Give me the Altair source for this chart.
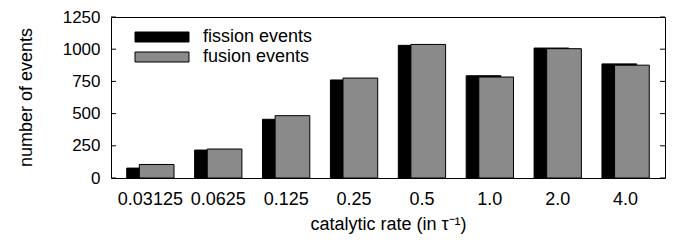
import altair as alt
import pandas as pd

rates = ["0.03125", "0.0625", "0.125", "0.25", "0.5", "1.0", "2.0", "4.0"]
fission = [77, 217, 456, 761, 1030, 794, 1009, 886]
fusion = [105, 225, 484, 776, 1037, 784, 1004, 876]
series_names = ["fission events", "fusion events"]
series_colors = ["#000000", "#8a8a8a"]
y_ticks = [0, 250, 500, 750, 1000, 1250]

rows = []
for r, a, b in zip(rates, fission, fusion):
    rows.append({"rate": r, "series": series_names[0], "count": a})
    rows.append({"rate": r, "series": series_names[1], "count": b})
df = pd.DataFrame(rows)
ticks_df = pd.DataFrame({"count": y_ticks})

FONT = "Liberation Sans"
FS = 18
W, H = 554, 161

x_enc = alt.X(
    "rate:N",
    sort=rates,
    scale=alt.Scale(paddingInner=0, paddingOuter=0.08),
    axis=alt.Axis(
        title="catalytic rate (in τ⁻¹)",
        labelAngle=0,
        ticks=False,
        domain=False,
        labelFontSize=FS,
        labelPadding=12,
        labelColor="black",
        titleFontSize=FS,
        titleFontWeight="normal",
        titleColor="black",
        titleBaseline="alphabetic",
        titleY=51,
    ),
)
y_scale = alt.Scale(domain=[0, 1250], nice=False, zero=True)
y_axis = alt.Axis(
    title="number of events",
    values=y_ticks,
    format="d",
    ticks=False,
    domain=False,
    grid=False,
    labelFontSize=17,
    labelPadding=11,
    labelColor="black",
    titleFontSize=FS,
    titleFontWeight="normal",
    titleColor="black",
    titleBaseline="alphabetic",
    titleAlign="center",
    titleX=-80,
    titleY=80,
)
y_enc = alt.Y("count:Q", scale=y_scale, axis=y_axis)
color_enc = alt.Color(
    "series:N",
    scale=alt.Scale(domain=series_names, range=series_colors),
    legend=alt.Legend(
        orient="none",
        legendX=42,
        legendY=11,
        title=None,
        symbolType="M-5.4,-1L5.4,-1L5.4,1L-5.4,1Z",
        symbolSize=100,
        symbolStrokeColor="black",
        symbolStrokeWidth=1,
        symbolOpacity=1,
        labelFontSize=FS,
        labelColor="black",
        labelOffset=32,
        rowPadding=2,
        padding=0,
    ),
)

base = alt.Chart(df).encode(x=x_enc, y=y_enc, color=color_enc)

fis = base.transform_filter(alt.datum.series == series_names[0]).mark_bar(
    width=34.7, xOffset=-6.3, stroke="black", strokeWidth=1, opacity=1
)
fus = base.transform_filter(alt.datum.series == series_names[1]).mark_bar(
    width=34.7, xOffset=6.3, stroke="black", strokeWidth=1, opacity=1
)

tick_y = alt.Y("count:Q", scale=y_scale, axis=y_axis)
left_ticks = alt.Chart(ticks_df).mark_rule(color="black", strokeWidth=1).encode(
    x=alt.value(0), x2=alt.value(5), y=tick_y
)
right_ticks = alt.Chart(ticks_df).mark_rule(color="black", strokeWidth=1).encode(
    x=alt.value(W - 5), x2=alt.value(W), y=tick_y
)

chart = (
    alt.layer(fis, fus, left_ticks, right_ticks)
    .properties(
        width=W,
        height=H,
        autosize=alt.AutoSizeParams(type="none"),
        padding={"left": 103, "top": 9, "right": 2, "bottom": 56},
    )
    .configure(font=FONT)
    .configure_view(stroke="black", strokeWidth=1)
    .configure_axis(labelFont=FONT, titleFont=FONT)
    .configure_legend(labelFont=FONT)
)

chart.save("out.html", embed_options={"renderer": "svg", "actions": False})
